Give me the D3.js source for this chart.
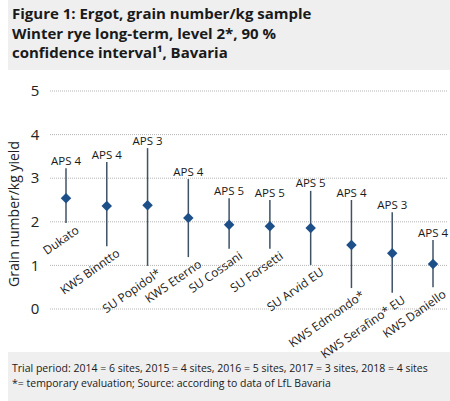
<!DOCTYPE html>
<html>
<head>
<meta charset="utf-8">
<style>
body { margin: 0; background: #fff; }
text { font-family: "Open Sans", "DejaVu Sans", sans-serif; }
</style>
</head>
<body></body>
<script src="https://d3js.org/d3.v7.min.js"></script>
<script>

// varieties, mean grain number and 90 % confidence interval
var varieties = ["Dukato", "KWS Binntto", "SU Popidol*", "KWS Eterno", "SU Cossani",
	"SU Forsetti", "SU Arvid EU", "KWS Edmondo*", "KWS Serafino* EU", "KWS Daniello"];
var means = [2.54, 2.36, 2.38, 2.09, 1.93, 1.90, 1.86, 1.47, 1.28, 1.03];
var lower = [1.97, 1.44, 0.99, 1.19, 1.38, 1.38, 1.01, 0.48, 0.37, 0.50];
var upper = [3.23, 3.37, 3.69, 2.98, 2.54, 2.50, 2.71, 2.50, 2.22, 1.58];
var aps = ["APS 4", "APS 4", "APS 3", "APS 4", "APS 5", "APS 5", "APS 5", "APS 4", "APS 3", "APS 4"];
var yTicks = [0, 1, 2, 3, 4, 5];

var titleLines = ["Figure 1: Ergot, grain number/kg sample",
	"Winter rye long-term, level 2*, 90 %",
	"confidence interval\u00b9, Bavaria"];
var footLines = ["Trial period: 2014 = 6 sites, 2015 = 4 sites, 2016 = 5 sites, 2017 = 3 sites, 2018 = 4 sites",
	"*= temporary evaluation; Source: according to data of LfL Bavaria"];

var W = 450, H = 401;
var svg = d3.select("body").append("svg")
	.attr("width", W)
	.attr("height", H);

// title box
svg.append("rect")
	.attr("x", 8).attr("y", 0)
	.attr("width", W - 8).attr("height", 70)
	.attr("fill", "#efeff0");

svg.append("g").selectAll("text")
	.data(titleLines)
	.enter().append("text")
	.attr("x", 12)
	.attr("y", (d, i) => 19 + i * 19.5)
	.attr("font-size", 15)
	.attr("font-weight", "bold")
	.attr("fill", "#1a1a1a")
	.text(d => d);

// footer box
svg.append("rect")
	.attr("x", 8).attr("y", 352)
	.attr("width", W - 8).attr("height", H - 352)
	.attr("fill", "#efeff0");

svg.append("g").selectAll("text")
	.data(footLines)
	.enter().append("text")
	.attr("x", 12)
	.attr("y", (d, i) => 372 + i * 15)
	.attr("font-size", 10.5)
	.attr("fill", "#1a1a1a")
	.text(d => d);

var x = d3.scalePoint()
	.domain(varieties)
	.range([66, 433]);

var y = d3.scaleLinear()
	.domain([0, 5])
	.range([309, 91]);

// grid
svg.append("g").selectAll("line")
	.data(yTicks)
	.enter().append("line")
	.attr("x1", 50).attr("x2", 447)
	.attr("y1", d => y(d)).attr("y2", d => y(d))
	.attr("stroke", "#b5b5b5")
	.attr("stroke-width", 1)
	.attr("stroke-dasharray", "1,1");

svg.append("g").selectAll("text")
	.data(yTicks)
	.enter().append("text")
	.attr("x", 35)
	.attr("y", d => y(d))
	.attr("dy", "0.35em")
	.attr("text-anchor", "middle")
	.attr("font-size", 15)
	.attr("fill", "#222")
	.text(d => d);

svg.append("text")
	.attr("transform", "translate(19,214) rotate(-90)")
	.attr("text-anchor", "middle")
	.attr("font-size", 14)
	.attr("fill", "#222")
	.text("Grain number/kg yield");

// whiskers
svg.append("g").selectAll("line")
	.data(varieties)
	.enter().append("line")
	.attr("x1", d => x(d)).attr("x2", d => x(d))
	.attr("y1", (d, i) => y(lower[i]))
	.attr("y2", (d, i) => y(upper[i]))
	.attr("stroke", "#3f5266")
	.attr("stroke-width", 1.5);

// diamonds
svg.append("g").selectAll("path")
	.data(varieties)
	.enter().append("path")
	.attr("transform", (d, i) => "translate(" + x(d) + "," + y(means[i]) + ")")
	.attr("d", d3.symbol(d3.symbolDiamond2, 70))
	.attr("fill", "#1d4f88");

// APS labels
svg.append("g").selectAll("text")
	.data(varieties)
	.enter().append("text")
	.attr("x", d => x(d))
	.attr("y", (d, i) => y(upper[i]) - 3.5)
	.attr("text-anchor", "middle")
	.attr("font-size", 11.5)
	.attr("fill", "#1a1a1a")
	.text((d, i) => aps[i]);

// variety labels
svg.append("g").selectAll("text")
	.data(varieties)
	.enter().append("text")
	.attr("transform", (d, i) => "translate(" + (x(d) + 14) + "," + (y(lower[i]) + 9) + ") rotate(-35)")
	.attr("text-anchor", "end")
	.attr("font-size", 12)
	.attr("fill", "#1a1a1a")
	.text(d => d);

</script>
</html>
